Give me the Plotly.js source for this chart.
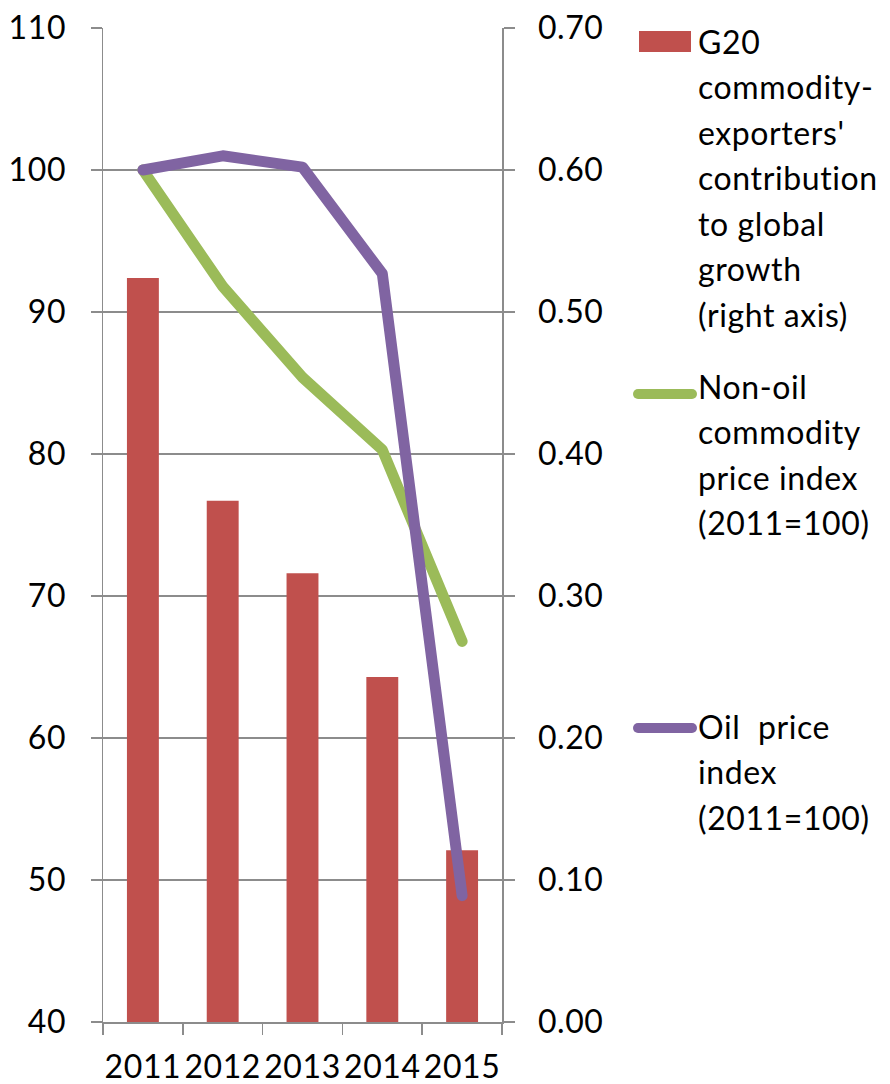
<!DOCTYPE html>
<html>
<head>
<meta charset="utf-8">
<script src="https://cdn.plot.ly/plotly-3.0.1.min.js"></script>
<style>
  html, body { margin: 0; padding: 0; background: #fff; }
  #chart { width: 890px; height: 1084px; }
  .scatterlayer .js-line { stroke-linejoin: round; stroke-linecap: round; }
  #chart svg text { letter-spacing: 0.6px; }
</style>
</head>
<body>
<div id="chart"></div>
<script>
// Years on the category axis
const years = ['2011', '2012', '2013', '2014', '2015'];

// G20 commodity-exporters' contribution to global growth (right axis, pp)
const g20Contribution = [0.524, 0.367, 0.316, 0.243, 0.121];

// Price indices, 2011 = 100 (left axis)
const nonOilIndex = [100, 91.8, 85.4, 80.3, 66.8];
const oilIndex = [100, 101.0, 100.2, 92.7, 48.9];

// Legend text, one entry per series, split into lines
const legendG20 = ['G20', 'commodity-', "exporters'", 'contribution', 'to global', 'growth', '(right axis)'];
const legendNonOil = ['Non-oil', 'commodity', 'price index', '(2011=100)'];
const legendOil = ['Oil  price', 'index', '(2011=100)'];

const RED = '#C0504D', GREEN = '#9BBB59', PURPLE = '#8064A2';
const GRID = '#8c8c8c';
const FONT = { family: 'Lato, "Open Sans", sans-serif', size: 32, color: '#000' };

// Plot area in page pixels
const W = 890, H = 1084;
const L = 103, R = 502, T = 28, B = 1022;
const px = x => (x - L) / (R - L);
const py = y => (B - y) / (B - T);

// Bars sit on the base (right-hand) axis so that the index lines,
// on the overlaying left-hand axis, are drawn on top of them.
const traces = [
  {
    type: 'bar', x: years, y: g20Contribution, yaxis: 'y',
    marker: { color: RED, line: { width: 0 } }, width: 0.4,
    showlegend: false, hoverinfo: 'x+y'
  },
  {
    type: 'scatter', mode: 'lines', x: years, y: nonOilIndex, yaxis: 'y2',
    line: { color: GREEN, width: 11 }, showlegend: false
  },
  {
    type: 'scatter', mode: 'lines', x: years, y: oilIndex, yaxis: 'y2',
    line: { color: PURPLE, width: 11 }, showlegend: false
  }
];

// Legend drawn as shapes + text lines in the right-hand margin
const shapes = [];
const annotations = [];
const LINE_GAP = 45.5;
const TEXT_X = 696;

function addText(lines, firstBaseline) {
  lines.forEach((t, i) => {
    const base = firstBaseline + i * LINE_GAP;
    annotations.push({
      xref: 'paper', yref: 'paper',
      x: px(TEXT_X), y: py(base - 11),
      xanchor: 'left', yanchor: 'middle',
      text: t, showarrow: false, align: 'left',
      font: FONT
    });
  });
}

function addLineKey(color, y) {
  shapes.push({
    type: 'line', xref: 'paper', yref: 'paper',
    x0: px(638), x1: px(692), y0: py(y), y1: py(y),
    line: { color: color, width: 10 }
  });
  [638, 692].forEach(cx => shapes.push({
    type: 'circle', xref: 'paper', yref: 'paper',
    x0: px(cx - 5), x1: px(cx + 5), y0: py(y + 5), y1: py(y - 5),
    fillcolor: color, line: { width: 0 }
  }));
}

shapes.push({
  type: 'rect', xref: 'paper', yref: 'paper',
  x0: px(639), x1: px(691), y0: py(52), y1: py(31),
  fillcolor: RED, line: { width: 0 }
});
addText(legendG20, 52);
addLineKey(GREEN, 394);
addText(legendNonOil, 397);
addLineKey(PURPLE, 728);
addText(legendOil, 737);

const axisCommon = {
  showline: true, linecolor: GRID, linewidth: 1.5,
  zeroline: false,
  ticks: 'outside', ticklen: 11, tickcolor: GRID, tickwidth: 1.5,
  tickfont: FONT, fixedrange: true
};

const layout = {
  width: W, height: H,
  margin: { l: L, r: W - R, t: T, b: H - B, pad: 0 },
  paper_bgcolor: '#fff', plot_bgcolor: '#fff',
  font: FONT,
  showlegend: false,
  xaxis: {
    type: 'category',
    showline: true, linecolor: GRID, linewidth: 1.5,
    showgrid: false,
    ticks: 'outside', tickson: 'boundaries', ticklen: 11,
    tickcolor: GRID, tickwidth: 1.5,
    tickangle: 0,
    ticklabelstandoff: 16,
    tickfont: FONT, fixedrange: true
  },
  // right-hand axis: contribution to global growth
  yaxis: Object.assign({}, axisCommon, {
    range: [0, 0.7], dtick: 0.1, tick0: 0, tickformat: '.2f',
    side: 'right',
    showgrid: true, gridcolor: GRID, gridwidth: 1.5,
    ticklabelstandoff: 17
  }),
  // left-hand axis: price indices
  yaxis2: Object.assign({}, axisCommon, {
    range: [40, 110], dtick: 10, tick0: 40,
    overlaying: 'y', side: 'left',
    showgrid: false,
    ticklabelstandoff: 18
  }),
  shapes: shapes,
  annotations: annotations
};

Plotly.newPlot('chart', traces, layout, { displayModeBar: false, staticPlot: true });
</script>
</body>
</html>
